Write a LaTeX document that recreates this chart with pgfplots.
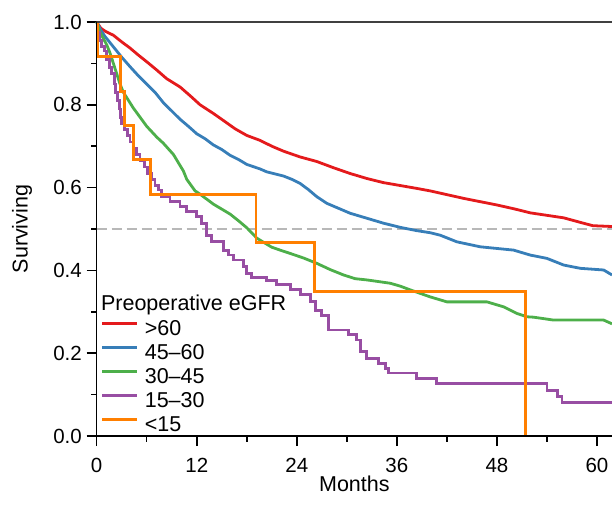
\documentclass[border=0pt]{standalone}
\usepackage{fontspec}
\setmainfont{Liberation Sans}
\usepackage{pgfplots}
\pgfplotsset{compat=1.18}
\definecolor{cred}{HTML}{E41A1C}
\definecolor{cblue}{HTML}{377EB8}
\definecolor{cgreen}{HTML}{4DAF4A}
\definecolor{cpurple}{HTML}{984EA3}
\definecolor{corange}{HTML}{FF7F00}
\newcommand{\tfont}{\fontsize{20.5}{24}\selectfont}
\newcommand{\lfont}{\fontsize{21.5}{24}\selectfont}
\begin{document}
\begin{tikzpicture}
\begin{axis}[
  scale only axis, width=531.3pt, height=414pt,
  at={(0pt,0pt)}, anchor=south west,
  xmin=0, xmax=63.72, ymin=0, ymax=1,
  axis line style={draw=none},
  clip=false,
  xtick={0,12,24,36,48,60}, ytick={0,0.2,0.4,0.6,0.8,1},
  minor x tick num=1, minor y tick num=1,
  xtick pos=bottom, ytick pos=left,
  tick align=outside,
  major tick length=10pt, minor tick length=5.5pt,
  every tick/.style={black, line width=1.5pt},
  /pgf/number format/assume math mode=true,
  yticklabel style={/pgf/number format/fixed, /pgf/number format/fixed zerofill, /pgf/number format/precision=1, anchor=east, inner sep=0pt, font=\tfont},
  xticklabel style={anchor=north, inner sep=0pt, text height=26.7pt, text depth=0pt, font=\tfont},
  yticklabel shift=4.7pt,
  xlabel={Months}, ylabel={Surviving},
  xlabel style={at={(axis cs:30.9,0)}, anchor=base, yshift=-55pt, font=\lfont},
  ylabel style={at={(axis cs:-8.28,0.5)}, anchor=base, font=\lfont},
  legend cell align=left,
  legend style={draw=none, fill=none, at={(axis cs:0.52,0.2838)}, anchor=north west,
    inner sep=0pt, outer sep=0pt, row sep=0pt, column sep=6pt, font=\lfont,
    nodes={inner sep=0pt, outer sep=0pt, text height=16.5pt, text depth=7.5pt}},
  legend image code/.code={\draw[#1, line width=2.8pt] (0pt,7pt) -- (35pt,7pt);},
]
\addplot[forget plot, color=black!28, line width=1.5pt, dash pattern=on 10pt off 5pt] coordinates {(0,0.5) (61.8,0.5)};

\addplot[cred, line width=2.8pt] coordinates {
(0,1)(0.5,0.985)(1,0.978)(2,0.968)(3,0.952)(4,0.937)(5,0.92)(6,0.904)(7.2,0.884)(8.4,0.863)(10,0.843)(11.2,0.822)(12.4,0.800)(14,0.779)(15.2,0.762)(16.6,0.742)(18,0.726)(19.6,0.714)(21,0.700)(22.4,0.688)(24.4,0.674)(26.4,0.663)(28.4,0.648)(30.4,0.634)(32.4,0.622)(34.4,0.612)(36.4,0.605)(38.4,0.598)(40,0.592)(42,0.583)(44,0.574)(46,0.566)(48,0.558)(50,0.549)(52,0.539)(54,0.533)(56,0.527)(58,0.516)(59.5,0.508)(61.8,0.506)
};
\addlegendentry{>60}

\addplot[cblue, line width=2.8pt] coordinates {
(0,1)(0.5,0.98)(1,0.965)(2,0.94)(3,0.915)(4,0.892)(5,0.87)(6,0.85)(7,0.83)(8,0.805)(9,0.785)(10,0.765)(11,0.748)(12,0.73)(13,0.718)(14,0.703)(15,0.692)(16,0.678)(17,0.668)(18,0.656)(19.6,0.645)(20.4,0.638)(22.4,0.628)(23.4,0.62)(24.4,0.61)(25.4,0.595)(26.4,0.578)(27.6,0.562)(29,0.55)(30.4,0.538)(32.4,0.526)(34.4,0.514)(36.4,0.504)(38.4,0.496)(40,0.491)(41.2,0.485)(43.2,0.469)(46,0.457)(48,0.453)(50,0.449)(52,0.437)(54,0.429)(56,0.413)(58,0.405)(60.8,0.401)(61.8,0.389)
};
\addlegendentry{45--60}

\addplot[cgreen, line width=2.8pt] coordinates {
(0,1)(0.4,0.975)(0.8,0.96)(1.2,0.945)(1.6,0.925)(2.0,0.90)(2.4,0.875)(2.8,0.85)(3.2,0.83)(4.4,0.792)(5.2,0.77)(6,0.748)(7.2,0.722)(8,0.707)(9.2,0.68)(9.8,0.66)(10.4,0.64)(10.8,0.62)(11.8,0.592)(12.4,0.584)(14,0.56)(16,0.536)(17,0.52)(18,0.503)(19.2,0.478)(20,0.468)(21,0.456)(22,0.449)(23.2,0.441)(24.8,0.43)(26.4,0.417)(28,0.402)(29.6,0.389)(31,0.38)(32.4,0.377)(35.2,0.369)(36.4,0.362)(37.6,0.353)(40,0.336)(42,0.324)(46.8,0.324)(48.8,0.312)(50.4,0.296)(51.6,0.288)(52.4,0.287)(54.8,0.280)(60.8,0.280)(61.8,0.271)
};
\addlegendentry{30--45}

\addplot[cpurple, line width=2.8pt, const plot] coordinates {
(0,1)(0.15,0.975)(0.35,0.955)(0.6,0.94)(0.9,0.93)(1.2,0.91)(1.5,0.89)(1.8,0.875)(2.1,0.85)(2.3,0.83)(2.5,0.81)(2.7,0.79)(2.9,0.77)(3.0,0.755)(3.3,0.74)(3.7,0.725)(4.0,0.71)(4.4,0.695)(4.8,0.68)(5.2,0.665)(5.7,0.65)(6.1,0.635)(6.6,0.62)(7.0,0.605)(7.4,0.594)(7.8,0.578)(8.8,0.566)(10.0,0.554)(10.8,0.542)(12.0,0.530)(12.6,0.514)(13.2,0.485)(13.8,0.469)(15.2,0.449)(15.8,0.437)(16.4,0.425)(17.6,0.409)(18.0,0.393)(18.6,0.383)(20.4,0.375)(21.6,0.365)(23.2,0.353)(24.4,0.341)(25.6,0.324)(26.2,0.304)(27.0,0.292)(27.8,0.256)(30.2,0.246)(31.2,0.232)(31.6,0.204)(32.4,0.188)(33.8,0.176)(34.6,0.164)(35.0,0.152)(38.4,0.139)(40.8,0.127)(54.0,0.109)(55.3,0.095)(55.8,0.080)(61.8,0.080)
};
\addlegendentry{15--30}

\addplot[corange, line width=2.8pt, const plot] coordinates {
(0,1)(0.1,0.917)(2.9,0.833)(3.35,0.75)(4.4,0.667)(6.5,0.583)(19.1,0.467)(26.1,0.35)(51.4,0)
};
\addlegendentry{<15}

\draw[black, line width=1.5pt] (axis cs:0,1) -- (axis cs:0,0) -- (axis cs:61.8,0);
\draw[black!75, line width=1.5pt] (axis cs:0,1) -- (axis cs:61.8,1);
\node[anchor=base west, inner sep=0pt, font=\lfont] at (axis cs:0.5,0.302) {Preoperative eGFR};
\end{axis}
\pgfresetboundingbox
\path[use as bounding box] (-96.7pt,-73pt) rectangle (515.3pt,436pt);
\end{tikzpicture}
\end{document}
